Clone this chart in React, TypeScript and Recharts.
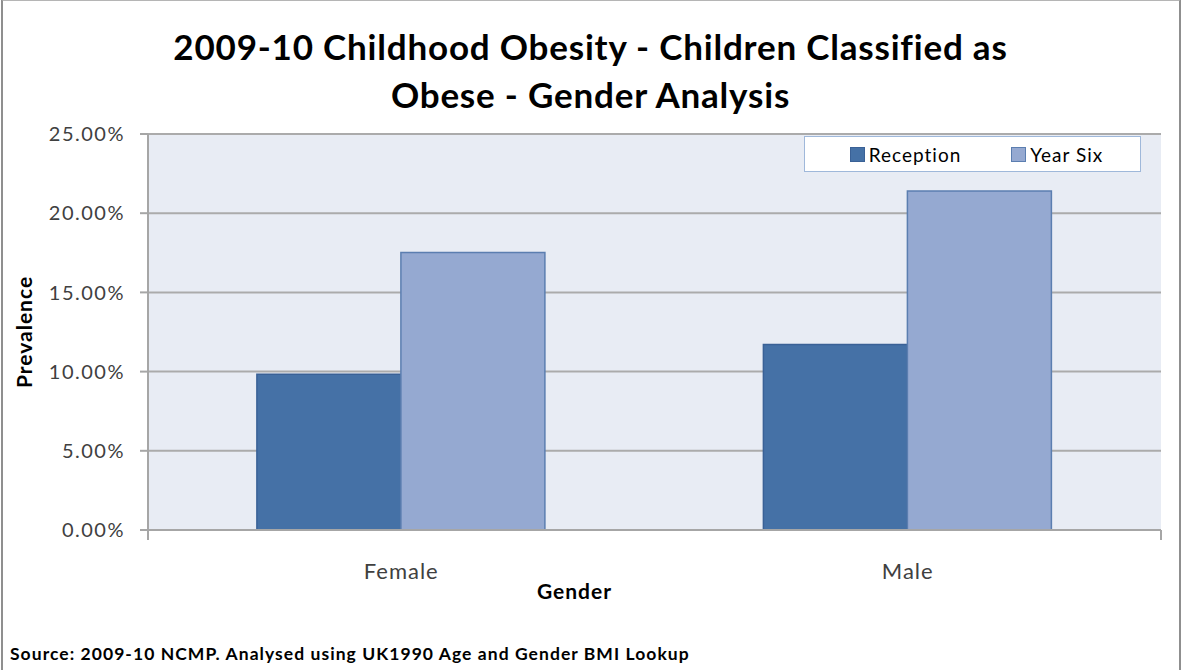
import React from "react";
import { BarChart, Bar, XAxis, YAxis, CartesianGrid, Label } from "recharts";

const genders = ["Female", "Male"];
const reception = [9.83, 11.71];
const yearSix = [17.52, 21.4];
const yTicks = [0, 5, 10, 15, 20, 25];
const edgeTicks = [0, 1, 2];

const series = [
  { key: "reception", name: "Reception", fill: "#4571a6", stroke: "#3a6196" },
  { key: "yearSix", name: "Year Six", fill: "#95a9d1", stroke: "#5b7eb0" },
];

const data = genders.map((g, i) => ({
  gender: g,
  reception: reception[i],
  yearSix: yearSix[i],
}));

const font = "Lato, 'Open Sans', sans-serif";

export default function App() {
  return (
    <div
      style={{
        position: "absolute",
        left: 0,
        top: 0,
        width: 1181,
        height: 670,
        background: "#fff",
        fontFamily: font,
        overflow: "hidden",
      }}
    >
      {/* frame */}
      <div
        style={{
          position: "absolute",
          left: 1,
          top: -1,
          width: 1176,
          height: 700,
          border: "2px solid #8f8f8f",
          borderTopColor: "#b5b5b5",
        }}
      />
      <div
        style={{
          position: "absolute",
          left: 0,
          top: 22,
          width: 1181,
          textAlign: "center",
          fontWeight: 700,
          fontSize: 35,
          letterSpacing: 0.8,
          lineHeight: "48px",
          color: "#000",
        }}
      >
        2009-10 Childhood Obesity - Children Classified as
        <br />
        Obese - Gender Analysis
      </div>

      <BarChart
        width={1181}
        height={670}
        data={data}
        margin={{ top: 134, right: 20, left: 0, bottom: 100 }}
        barCategoryGap="21.5%"
        barGap={0}
        style={{ position: "absolute", left: 0, top: 0 }}
      >
        <CartesianGrid
          vertical={false}
          fill="#e8ecf4"
          stroke="#ababab"
          strokeWidth={2}
        />
        <XAxis
          xAxisId="cat"
          dataKey="gender"
          height={39}
          axisLine={false}
          tickLine={false}
          tickSize={0}
          tickMargin={32}
          tick={{ fill: "#404040", fontSize: 22, letterSpacing: 1, fontFamily: font }}
        >
          <Label
            value="Gender"
            position="bottom"
            offset={14}
            dx={-80}
            style={{ fontWeight: 700, fontSize: 21, letterSpacing: 1, fill: "#000", fontFamily: font }}
          />
        </XAxis>
        <XAxis
          xAxisId="aedge"
          type="number"
          domain={[0, 2]}
          allowDataOverflow
          ticks={edgeTicks}
          interval={0}
          height={1}
          axisLine={{ stroke: "#a6a6a6", strokeWidth: 2 }}
          tickLine={{ stroke: "#a6a6a6", strokeWidth: 2 }}
          tickSize={10}
          tickFormatter={() => ""}
        />
        <YAxis
          width={148}
          domain={[0, 25]}
          ticks={yTicks}
          tickFormatter={(v: number) => v.toFixed(2) + "%"}
          axisLine={{ stroke: "#a6a6a6", strokeWidth: 2 }}
          tickLine={{ stroke: "#a6a6a6", strokeWidth: 2 }}
          tickSize={8}
          tickMargin={15}
          tick={{ fill: "#404040", fontSize: 20, letterSpacing: 1.5, fontFamily: font }}
        >
          <Label
            value="Prevalence"
            angle={-90}
            position="insideLeft"
            offset={25}
            style={{ textAnchor: "middle", fontWeight: 700, fontSize: 21, letterSpacing: 1, fill: "#000", fontFamily: font }}
          />
        </YAxis>
        {series.map((s) => (
          <Bar
            key={s.key}
            xAxisId="cat"
            dataKey={s.key}
            name={s.name}
            fill={s.fill}
            stroke={s.stroke}
            strokeWidth={1.5}
            isAnimationActive={false}
          />
        ))}
      </BarChart>

      {/* legend */}
      <div
        style={{
          position: "absolute",
          left: 804,
          top: 136,
          width: 337,
          height: 36,
          paddingLeft: 8,
          boxSizing: "border-box",
          border: "1.5px solid #9fb8da",
          background: "#fff",
          display: "flex",
          alignItems: "center",
          justifyContent: "center",
          gap: 50,
          fontSize: 19,
          letterSpacing: 1,
          color: "#000",
        }}
      >
        {series.map((s) => (
          <div key={s.key} style={{ display: "flex", alignItems: "center", gap: 4 }}>
            <span
              style={{
                display: "inline-block",
                width: 13,
                height: 13,
                background: s.fill,
                border: `1px solid ${s.stroke}`,
              }}
            />
            <span>{s.name}</span>
          </div>
        ))}
      </div>

      <div
        style={{
          position: "absolute",
          left: 10,
          top: 643,
          fontWeight: 700,
          fontSize: 17.5,
          letterSpacing: 1.05,
          color: "#000",
        }}
      >
        Source: 2009-10 NCMP. Analysed using UK1990 Age and Gender BMI Lookup
      </div>
    </div>
  );
}
